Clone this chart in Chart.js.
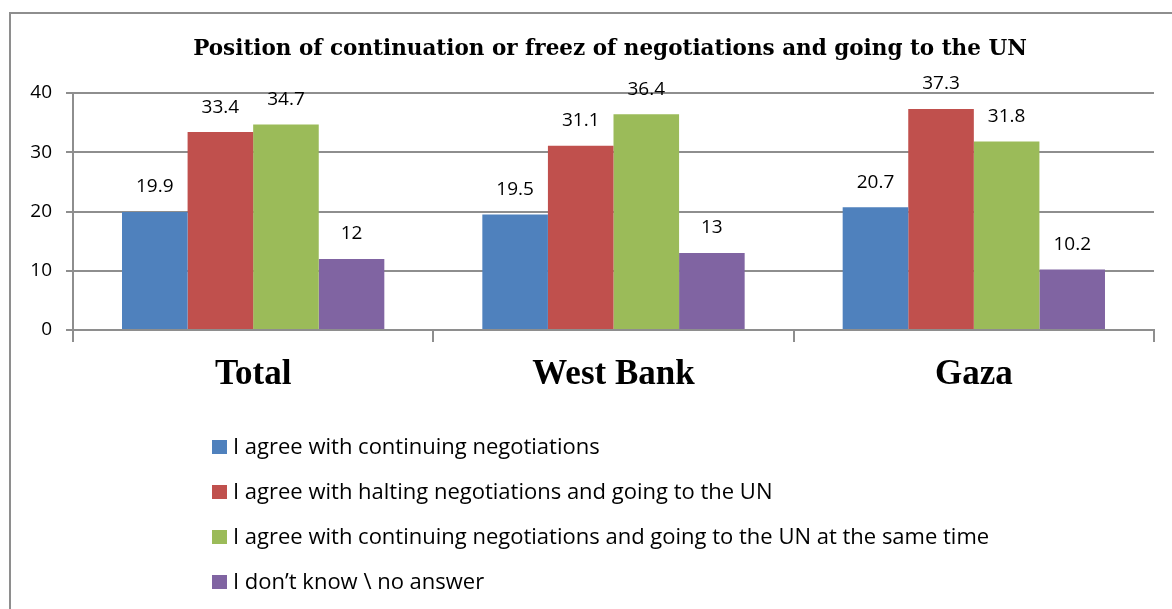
<!DOCTYPE html>
<html>
<head>
<meta charset="utf-8">
<script src="https://cdn.jsdelivr.net/npm/chart.js@4"></script>
<style>
  html, body { margin: 0; padding: 0; background: #fff; overflow: hidden; }
  #frame {
    position: absolute;
    left: 9px;
    top: 12px;
    width: 1200px;
    height: 620px;
    border: 2px solid #8e8e8e;
  }
  #chart { display: block; }
</style>
</head>
<body>
<div id="frame">
  <canvas id="chart" width="1200" height="620"></canvas>
</div>
<script>
const chartTitle = "Position of continuation or freez of negotiations and going to the UN";
const regions = ["Total", "West Bank", "Gaza"];
const seriesLabels = [
  "I agree with continuing negotiations",
  "I agree with halting negotiations and going to the UN",
  "I agree with continuing negotiations and going to the UN at the same time",
  "I don\u2019t know \\ no answer",
];
const continuing = [19.9, 19.5, 20.7];
const halting = [33.4, 31.1, 37.3];
const both = [34.7, 36.4, 31.8];
const noAnswer = [12, 13, 10.2];
const yTicks = [0, 10, 20, 30, 40];

const colors = ["#4f81bd", "#c0504d", "#9bbb59", "#8064a2"];
const gridColor = "#8e8e8e";
const bodyFont = "'Open Sans', 'Noto Sans', sans-serif";
const serifFont = "'Liberation Serif', serif";

// value labels above each bar
const valueLabels = {
  id: "valueLabels",
  afterDatasetsDraw(chart) {
    const ctx = chart.ctx;
    ctx.save();
    ctx.font = "19px " + bodyFont;
    ctx.fillStyle = "#000";
    ctx.textAlign = "center";
    ctx.textBaseline = "middle";
    chart.data.datasets.forEach((ds, i) => {
      chart.getDatasetMeta(i).data.forEach((bar, j) => {
        ctx.fillText(String(ds.data[j]), bar.x, bar.y - 25);
      });
    });
    ctx.restore();
  },
};

// title centred on the whole frame, plus a vertical legend under the axis
const frameText = {
  id: "frameText",
  afterDraw(chart) {
    const ctx = chart.ctx;
    ctx.save();
    ctx.fillStyle = "#000";
    ctx.textBaseline = "middle";
    ctx.textAlign = "center";
    ctx.font = "bold 21.5px 'DejaVu Serif', serif";
    ctx.fillText(chartTitle, 599, 35);

    ctx.textAlign = "left";
    ctx.font = "22px " + bodyFont;
    chart.data.datasets.forEach((ds, i) => {
      const y = 433 + i * 45;
      ctx.fillStyle = ds.backgroundColor;
      ctx.fillRect(201, y - 7, 15, 14);
      ctx.fillStyle = "#000";
      ctx.fillText(ds.label, 222, y + 1);
    });
    ctx.restore();
  },
};

const values = [continuing, halting, both, noAnswer];

new Chart(document.getElementById("chart"), {
  type: "bar",
  data: {
    labels: regions,
    datasets: values.map((data, i) => ({
      label: seriesLabels[i],
      data: data,
      backgroundColor: colors[i],
      borderWidth: 0,
      categoryPercentage: 0.728,
      barPercentage: 1,
    })),
  },
  options: {
    responsive: false,
    animation: false,
    layout: { padding: { left: 0, right: 57, top: 79, bottom: 244 } },
    plugins: {
      legend: { display: false },
      tooltip: { enabled: false },
      title: { display: false },
    },
    scales: {
      x: {
        afterFit: (scale) => { scale.height = 60; },
        border: { display: true, color: gridColor, width: 2 },
        grid: {
          offset: true,
          drawOnChartArea: false,
          color: gridColor,
          lineWidth: 2,
          tickLength: 12,
        },
        ticks: {
          color: "#000",
          padding: 12,
          font: { family: serifFont, size: 35, weight: "bold" },
        },
      },
      y: {
        min: 0,
        max: 40,
        afterFit: (scale) => { scale.width = 62; },
        afterBuildTicks: (scale) => { scale.ticks = yTicks.map((v) => ({ value: v })); },
        border: { display: true, color: gridColor, width: 2 },
        grid: { color: gridColor, lineWidth: 2, tickLength: 7 },
        ticks: {
          color: "#000",
          padding: 14,
          font: { family: bodyFont, size: 19 },
        },
      },
    },
  },
  plugins: [valueLabels, frameText],
});
</script>
</body>
</html>
